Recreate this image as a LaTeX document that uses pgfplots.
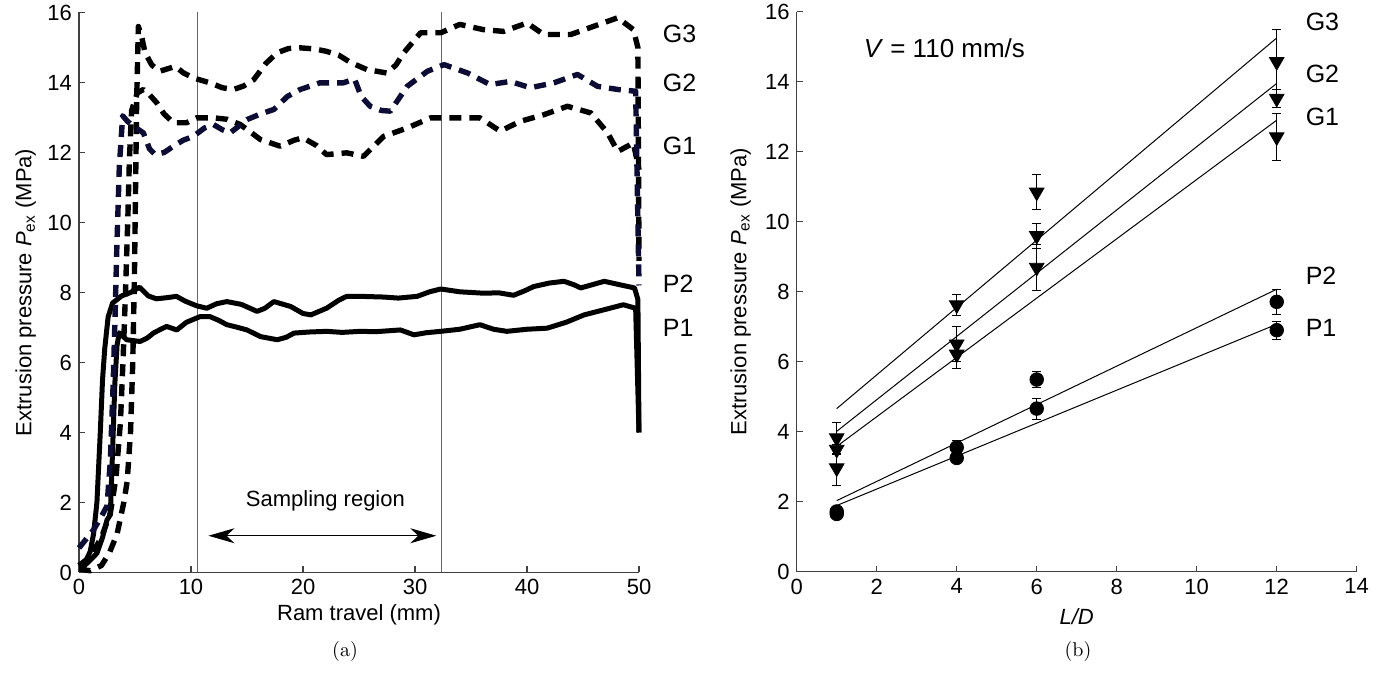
\documentclass[border=0pt]{standalone}
\usepackage{pgfplots}
\pgfplotsset{compat=1.18}
\usepackage{fontspec}
\setmainfont{Liberation Sans}
\usetikzlibrary{arrows.meta}
\definecolor{navy}{RGB}{12,12,52}
\begin{document}
\begin{tikzpicture}[font=\fontsize{11}{13}\selectfont]
\path[use as bounding box] (0,0) rectangle (695pt,336.5pt);
\pgfplotsset{
  myax/.style={
    scale only axis, width=280pt, height=280pt,
    axis lines*=left, ymin=0, ymax=16, ytick={0,2,...,16},
    tick align=inside, major tick length=3pt,
    axis line style={black!75, line width=0.6pt},
    tick style={black!75, line width=0.6pt},
    /pgf/number format/assume math mode=true,
    tick label style={font=\fontsize{11}{13}\selectfont},
    clip=false,
  }
}
% ---------------- left panel ----------------
\begin{axis}[myax, at={(39.5pt,50.25pt)}, anchor=south west,
  xmin=0, xmax=50, xtick={0,10,...,50},
  xlabel={Ram travel (mm)},
  x label style={at={(axis description cs:0.5,-0.076)}, anchor=center},
  ylabel={Extrusion pressure \textit{P}\textsubscript{ex} (MPa)},
  y label style={at={(axis description cs:-0.095,0.5)}, anchor=center},
]
\addplot[black!60, line width=0.6pt] coordinates {(10.6,0)(10.6,16)};
\addplot[black!60, line width=0.6pt] coordinates {(32.4,0)(32.4,16)};
% P1
\addplot[black, line width=2.5pt, line join=round] coordinates {
(0,0.15)(0.4,0.17)(1.0,0.35)(1.6,0.55)(2.1,1.0)(2.5,1.5)(2.8,1.65)(2.9,2.6)(3.0,3.5)(3.2,5.4)(3.4,6.5)(3.6,6.85)(4.25,6.65)(5.45,6.6)(6.1,6.7)(6.64,6.84)(7.3,6.95)(7.83,7.03)(8.73,6.93)(9.6,7.15)(10.8,7.31)(11.7,7.31)(12.5,7.2)(13.2,7.08)(14.2,7.0)(15.0,6.93)(16.2,6.74)(17.7,6.65)(18.5,6.72)(19.2,6.84)(20.5,6.87)(22.1,6.89)(23.5,6.86)(25.1,6.89)(26.5,6.88)(28.7,6.93)(29.9,6.79)(31.0,6.85)(32.3,6.89)(34,6.95)(35.8,7.08)(37,6.95)(38.2,6.89)(40,6.95)(41.8,6.98)(43.5,7.15)(45.1,7.36)(46.8,7.5)(48.6,7.65)(49.7,7.55)(50,4.0)};
% P2
\addplot[black, line width=2.5pt, line join=round] coordinates {
(0,0.2)(0.5,0.25)(1.0,0.6)(1.3,1.1)(1.6,2.0)(1.9,4.0)(2.1,5.5)(2.3,6.4)(2.6,7.3)(3.0,7.7)(3.8,7.9)(4.6,8.0)(5.4,8.15)(6.2,7.9)(6.9,7.82)(7.8,7.85)(8.7,7.89)(9.5,7.75)(10.5,7.62)(11.4,7.55)(12.3,7.68)(13.2,7.74)(14.5,7.66)(15.9,7.46)(16.6,7.55)(17.4,7.74)(18.9,7.6)(20.0,7.4)(20.7,7.36)(22.1,7.55)(23.2,7.78)(23.9,7.89)(25.1,7.89)(27.2,7.87)(28.5,7.84)(30.2,7.89)(31.3,8.02)(32.3,8.1)(34,8.02)(36.1,7.98)(37.5,7.99)(38.8,7.92)(39.8,8.05)(40.6,8.17)(42,8.27)(43.3,8.32)(44.2,8.22)(44.8,8.13)(45.8,8.22)(46.9,8.32)(48.3,8.22)(49.6,8.13)(49.9,7.8)(50,4.0)};
% G1
\addplot[black, line width=2.7pt, line join=round, dash pattern=on 6pt off 4pt] coordinates {
(0,0.2)(1,0.45)(2,1.0)(2.8,1.7)(3.3,2.7)(3.7,4.3)(3.95,6.2)(4.15,8.0)(4.35,10.0)(4.5,11.8)(4.7,13.2)(5.2,13.7)(5.75,13.8)(6.3,13.65)(6.94,13.42)(7.6,13.1)(8.43,12.85)(9.6,12.85)(10.5,12.99)(12.0,12.99)(13.2,12.95)(14.4,12.8)(16.2,12.37)(17.96,12.18)(19.2,12.35)(20.0,12.42)(21.2,12.2)(22.1,11.94)(23.9,11.99)(25.4,11.89)(27.2,12.46)(29.3,12.7)(31.4,12.99)(33.8,12.99)(35.8,12.99)(37.6,12.61)(39.4,12.89)(41.5,13.08)(43.6,13.32)(45.7,13.13)(47.2,12.56)(48.1,12.03)(49.5,12.27)(50,11.5)};
% G3
\addplot[black, line width=2.7pt, line join=round, dash pattern=on 6pt off 4pt] coordinates {
(0,0.1)(1,0.05)(2,0.2)(2.7,0.55)(3.4,1.1)(4.0,2.0)(4.3,2.6)(4.6,4.0)(4.8,6.0)(4.95,8.5)(5.05,11.0)(5.15,13.5)(5.3,15.6)(5.6,15.3)(5.9,14.85)(6.5,14.5)(7.2,14.32)(8.0,14.4)(8.6,14.46)(9.3,14.28)(10.2,14.13)(11.7,13.99)(12.8,13.85)(13.8,13.8)(14.7,13.9)(15.6,14.08)(16.7,14.55)(17.7,14.85)(18.7,14.97)(19.75,14.99)(21,14.96)(22.1,14.89)(23.2,14.78)(24.2,14.58)(25.7,14.37)(27.5,14.27)(28.3,14.5)(29.0,14.85)(30.5,15.42)(32.3,15.42)(34.0,15.66)(36.1,15.51)(37.9,15.46)(40.0,15.7)(41.5,15.37)(43.9,15.37)(46.0,15.61)(48.1,15.85)(49.5,15.51)(49.9,15.0)(50,8.9)};
% G2
\addplot[navy, line width=2.7pt, line join=round, dash pattern=on 6pt off 4pt] coordinates {
(0,0.7)(0.5,0.9)(1.3,1.22)(2.0,1.6)(2.5,1.9)(2.8,3.2)(3.05,5.4)(3.22,7.3)(3.37,9.2)(3.6,11.6)(3.9,13.05)(4.3,12.9)(4.85,12.75)(5.75,12.56)(6.3,12.1)(6.8,11.94)(7.6,12.0)(8.43,12.18)(9.3,12.35)(10.2,12.46)(11.2,12.7)(12.0,12.8)(12.8,12.65)(13.5,12.56)(15.0,12.94)(16.2,13.1)(17.4,13.23)(18.6,13.6)(19.75,13.8)(21.5,13.99)(23.6,13.99)(24.6,14.1)(25.2,13.6)(26.0,13.32)(27.0,13.2)(27.8,13.18)(29.3,13.89)(31.1,14.32)(32.6,14.51)(34.7,14.27)(36.7,13.94)(38.5,14.03)(40.3,13.85)(42.4,13.99)(44.5,14.23)(46.3,13.89)(48.1,13.8)(49.7,13.75)(50,8.2)};
\draw[{Stealth[length=13pt,width=7.5pt,inset=4pt]}-{Stealth[length=13pt,width=7.5pt,inset=4pt]}, line width=0.6pt] (axis cs:11.56,1.05) -- (axis cs:31.9,1.05);
\node[font=\fontsize{11}{13}\selectfont] at (axis cs:22.0,2.05) {Sampling region};
\begin{scope}[font=\fontsize{12.5}{14}\selectfont]
\node[anchor=west] at (axis cs:51.5,15.4) {G3};
\node[anchor=west] at (axis cs:51.5,14.0) {G2};
\node[anchor=west] at (axis cs:51.5,12.2) {G1};
\node[anchor=west] at (axis cs:51.5,8.25) {P2};
\node[anchor=west] at (axis cs:51.5,7.0) {P1};
\end{scope}
\end{axis}
% ---------------- right panel ----------------
\begin{axis}[myax, at={(398.35pt,50.65pt)}, anchor=south west,
  xmin=0, xmax=14, xtick={0,2,...,14},
  xlabel={\textit{L/D}},
  x label style={at={(axis description cs:0.5,-0.081)}, anchor=center},
  ylabel={Extrusion pressure \textit{P}\textsubscript{ex} (MPa)},
  y label style={at={(axis description cs:-0.1,0.5)}, anchor=center},
]
% fitted lines
\addplot[black, line width=0.5pt] coordinates {(1,4.66)(12,15.25)};
\addplot[black, line width=0.5pt] coordinates {(1,4.01)(12,13.95)};
\addplot[black, line width=0.5pt] coordinates {(1,3.58)(12,12.9)};
\addplot[black, line width=0.5pt] coordinates {(1,2.03)(12,8.07)};
\addplot[black, line width=0.5pt] coordinates {(1,1.89)(12,7.07)};
\pgfplotsset{gmark/.style={only marks, mark=triangle*, mark size=4.2pt, mark options={black, fill=black, rotate=180},
  error bars/.cd, y dir=both, y explicit, error mark=-, error bar style={black, line width=0.5pt}, error mark options={rotate=90, black, line width=0.5pt, mark size=2.2pt}},
  pmark/.style={only marks, mark=*, mark size=3.4pt, mark options={black, fill=black},
  error bars/.cd, y dir=both, y explicit, error mark=-, error bar style={black, line width=0.5pt}, error mark options={rotate=90, black, line width=0.5pt, mark size=2.2pt}}}
\addplot[gmark] coordinates {(1,3.82) +- (0,0.45) (4,7.62) +- (0,0.3) (6,10.84) +- (0,0.5) (12,14.57) +- (0,0.93)};
\addplot[gmark] coordinates {(1,3.49) +- (0,0.15) (4,6.5) +- (0,0.5) (6,9.6) +- (0,0.36) (12,13.52) +- (0,0.26)};
\addplot[gmark] coordinates {(1,2.96) +- (0,0.5) (4,6.21) +- (0,0.4) (6,8.69) +- (0,0.65) (12,12.42) +- (0,0.67)};
\addplot[pmark] coordinates {(1,1.72) +- (0,0.05) (4,3.55) +- (0,0.2) (6,5.49) +- (0,0.24) (12,7.71) +- (0,0.36)};
\addplot[pmark] coordinates {(1,1.65) +- (0,0.05) (4,3.25) +- (0,0.1) (6,4.66) +- (0,0.3) (12,6.9) +- (0,0.26)};
\node[anchor=west, font=\fontsize{13}{15}\selectfont] at (axis cs:1.5,14.95) {\textit{V} = 110 mm/s};
\begin{scope}[font=\fontsize{12.5}{14}\selectfont]
\node[anchor=west] at (axis cs:12.55,15.72) {G3};
\node[anchor=west] at (axis cs:12.55,14.23) {G2};
\node[anchor=west] at (axis cs:12.55,12.99) {G1};
\node[anchor=west] at (axis cs:12.55,8.45) {P2};
\node[anchor=west] at (axis cs:12.55,6.97) {P1};
\end{scope}
\end{axis}
\node[font=\fontfamily{lmr}\selectfont\fontsize{10}{12}\selectfont] at (172.5pt,10.5pt) {(a)};
\node[font=\fontfamily{lmr}\selectfont\fontsize{10}{12}\selectfont] at (539pt,10.5pt) {(b)};
\end{tikzpicture}
\end{document}
